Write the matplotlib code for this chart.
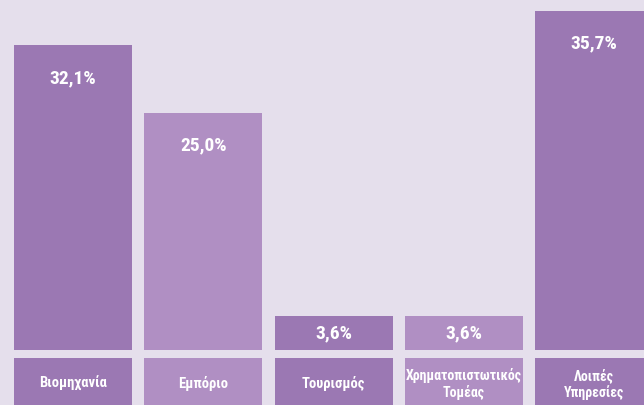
import matplotlib
matplotlib.use("Agg")
import matplotlib.pyplot as plt
from matplotlib import font_manager

# data
categories = ["Βιομηχανία", "Εμπόριο", "Τουρισμός", "Χρηματοπιστωτικός\nΤομέας", "Λοιπές\nΥπηρεσίες"]
values = [32.1, 25.0, 3.6, 3.6, 35.7]
value_labels = ["32,1%", "25,0%", "3,6%", "3,6%", "35,7%"]

bg = "#e5dfec"
dark = "#9b78b3"
light = "#b08fc3"
colors = [dark, light, dark, light, dark]

names = {f.name for f in font_manager.fontManager.ttflist}
fam = [f for f in ["Liberation Sans Narrow", "Roboto Condensed", "Roboto", "DejaVu Sans"] if f in names]
plt.rcParams["font.family"] = fam

W, H = 644, 406
fig = plt.figure(figsize=(W / 100, H / 100), dpi=100, facecolor=bg)

base_px = 351          # y pixel of bar baseline
px_per_unit = 9.5
x0_px, step_px, bw_px = 73, 130.25, 118
xlim = (-x0_px / step_px, (W - x0_px) / step_px)
bw = bw_px / step_px
xs = list(range(len(values)))

ax = fig.add_axes([0, (H - base_px) / H, 1, base_px / H])
ax.set_facecolor(bg)
ax.set_xlim(*xlim)
ax.set_ylim(0, base_px / px_per_unit)
ax.bar(xs, values, width=bw, color=colors, linewidth=0)
ax.axis("off")

for x, v, lab in zip(xs, values, value_labels):
    bar_px = v * px_per_unit
    if bar_px > 70:
        ax.annotate(lab, xy=(x, v), xytext=(0, -32 * 0.72), textcoords="offset points",
                    ha="center", va="center", color="white", fontsize=14, fontweight="bold")
    else:
        ax.text(x, v / 2, lab, ha="center", va="center", color="white",
                fontsize=14, fontweight="bold")

# category label boxes
box_top = 359
lax = fig.add_axes([0, 0, 1, (H - box_top) / H])
lax.set_xlim(*xlim)
lax.set_ylim(0, 1)
lax.bar(xs, [1.2] * len(xs), width=bw, color=colors, linewidth=0)
lax.axis("off")
for x, c in zip(xs, categories):
    fs = 10 if len(c) > 15 else 10.5
    lax.text(x, 0.47, c, ha="center", va="center", color="white",
             fontsize=fs, fontweight="bold", linespacing=1.2)

fig.savefig("out.png", dpi=100, facecolor=bg)
